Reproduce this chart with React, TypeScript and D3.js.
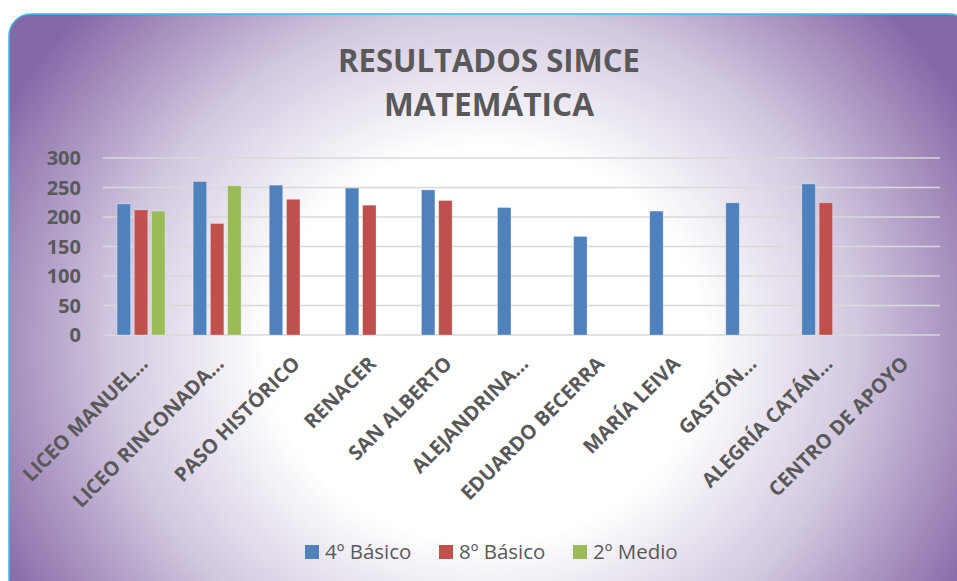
import React from 'react';
import * as d3 from 'd3';

const categories = [
    'LICEO MANUEL...',
    'LICEO RINCONADA...',
    'PASO HISTÓRICO',
    'RENACER',
    'SAN ALBERTO',
    'ALEJANDRINA...',
    'EDUARDO BECERRA',
    'MARÍA LEIVA',
    'GASTÓN...',
    'ALEGRÍA CATÁN...',
    'CENTRO DE APOYO',
];

const seriesNames = ['4º Básico', '8º Básico', '2º Medio'];
const seriesColors = ['#4f81bd', '#c0504d', '#9bbb59'];

const basico4 = [222, 260, 254, 249, 246, 216, 167, 210, 224, 256, null];
const basico8 = [212, 189, 230, 220, 228, null, null, null, null, 224, null];
const medio2 = [210, 253, null, null, null, null, null, null, null, null, null];

const yTicks = [0, 50, 100, 150, 200, 250, 300];

const titleLines = ['RESULTADOS SIMCE', 'MATEMÁTICA'];

const W = 957;
const H = 581;
const margin = {top: 158, right: 17, bottom: 246, left: 103};

function App() {
    const series = [basico4, basico8, medio2];

    const x = d3.scaleBand<string>()
        .domain(categories)
        .range([margin.left, W - margin.right])
        .paddingInner(0.37)
        .paddingOuter(0.185);

    const xInner = d3.scaleBand<string>()
        .domain(seriesNames)
        .range([0, x.bandwidth()])
        .paddingInner(0.22);

    const y = d3.scaleLinear()
        .domain([0, 300])
        .range([H - margin.bottom, margin.top]);

    const gray = '#595959';
    const font = '"Open Sans", sans-serif';

    // legend layout
    const legendX = [305, 439, 573];

    return (
        <svg width={W} height={H} viewBox={`0 0 ${W} ${H}`}
             style={{position: 'absolute', left: 0, top: 0, display: 'block'}}>
            <defs>
                <radialGradient id="bg" gradientUnits="userSpaceOnUse"
                                cx={485} cy={345} r={520}
                                gradientTransform="translate(485 345) scale(1.05 0.95) translate(-485 -345)">
                    <stop offset="0" stopColor="#ffffff"/>
                    <stop offset="0.4" stopColor="#ffffff"/>
                    <stop offset="0.68" stopColor="#d2c8df"/>
                    <stop offset="1" stopColor="#8668a7"/>
                </radialGradient>
            </defs>

            <rect x={0} y={0} width={W} height={H} fill="#ffffff"/>
            <rect x={9} y={14} width={962} height={590} rx={22} ry={22}
                  fill="url(#bg)" stroke="#41b6e6" strokeWidth={1.5}/>

            {titleLines.map((t, i) => (
                <text key={t}
                      x={489}
                      y={72 + i * 44}
                      textAnchor="middle"
                      fontFamily={font}
                      fontWeight="bold"
                      fontSize={32}
                      fill={gray}
                      textLength={i === 0 ? 302 : 210}
                      lengthAdjust="spacingAndGlyphs">
                    {t}
                </text>
            ))}

            {/* grid + y axis labels */}
            {yTicks.map(t => (
                <g key={t}>
                    <line x1={margin.left} x2={W - margin.right}
                          y1={y(t)} y2={y(t)}
                          stroke="#d9d9d9" strokeWidth={1.5}/>
                    <text x={81} y={y(t)} dy="0.36em" textAnchor="end"
                          fontFamily={font} fontWeight="bold" fontSize={20} fill={gray}>
                        {t}
                    </text>
                </g>
            ))}

            {/* bars */}
            {categories.map((c, i) => (
                <g key={c} transform={`translate(${x(c)},0)`}>
                    {series.map((s, k) => s[i] == null ? null : (
                        <rect key={k}
                              x={xInner(seriesNames[k])}
                              y={y(s[i] as number)}
                              width={xInner.bandwidth()}
                              height={y(0) - y(s[i] as number)}
                              fill={seriesColors[k]}
                              stroke="#ffffff" strokeOpacity={0.35} strokeWidth={0.8}/>
                    ))}
                </g>
            ))}

            {/* x labels */}
            {categories.map(c => {
                const cx = (x(c) as number) + x.bandwidth() / 2 + 3;
                const cy = y(0) + 25;
                return (
                    <text key={c}
                          transform={`translate(${cx},${cy}) rotate(-45)`}
                          textAnchor="end"
                          dy="0.35em"
                          fontFamily={font}
                          fontWeight="bold"
                          fontSize={20}
                          fill={gray}>
                        {c}
                    </text>
                );
            })}

            {/* legend */}
            {seriesNames.map((n, k) => (
                <g key={n} transform={`translate(${legendX[k]},545)`}>
                    <rect x={0} y={0} width={14} height={14} fill={seriesColors[k]}/>
                    <text x={20} y={7} dy="0.36em" fontFamily={font} fontSize={20.5} fill={gray}>
                        {n}
                    </text>
                </g>
            ))}
        </svg>
    );
}

export default App;
